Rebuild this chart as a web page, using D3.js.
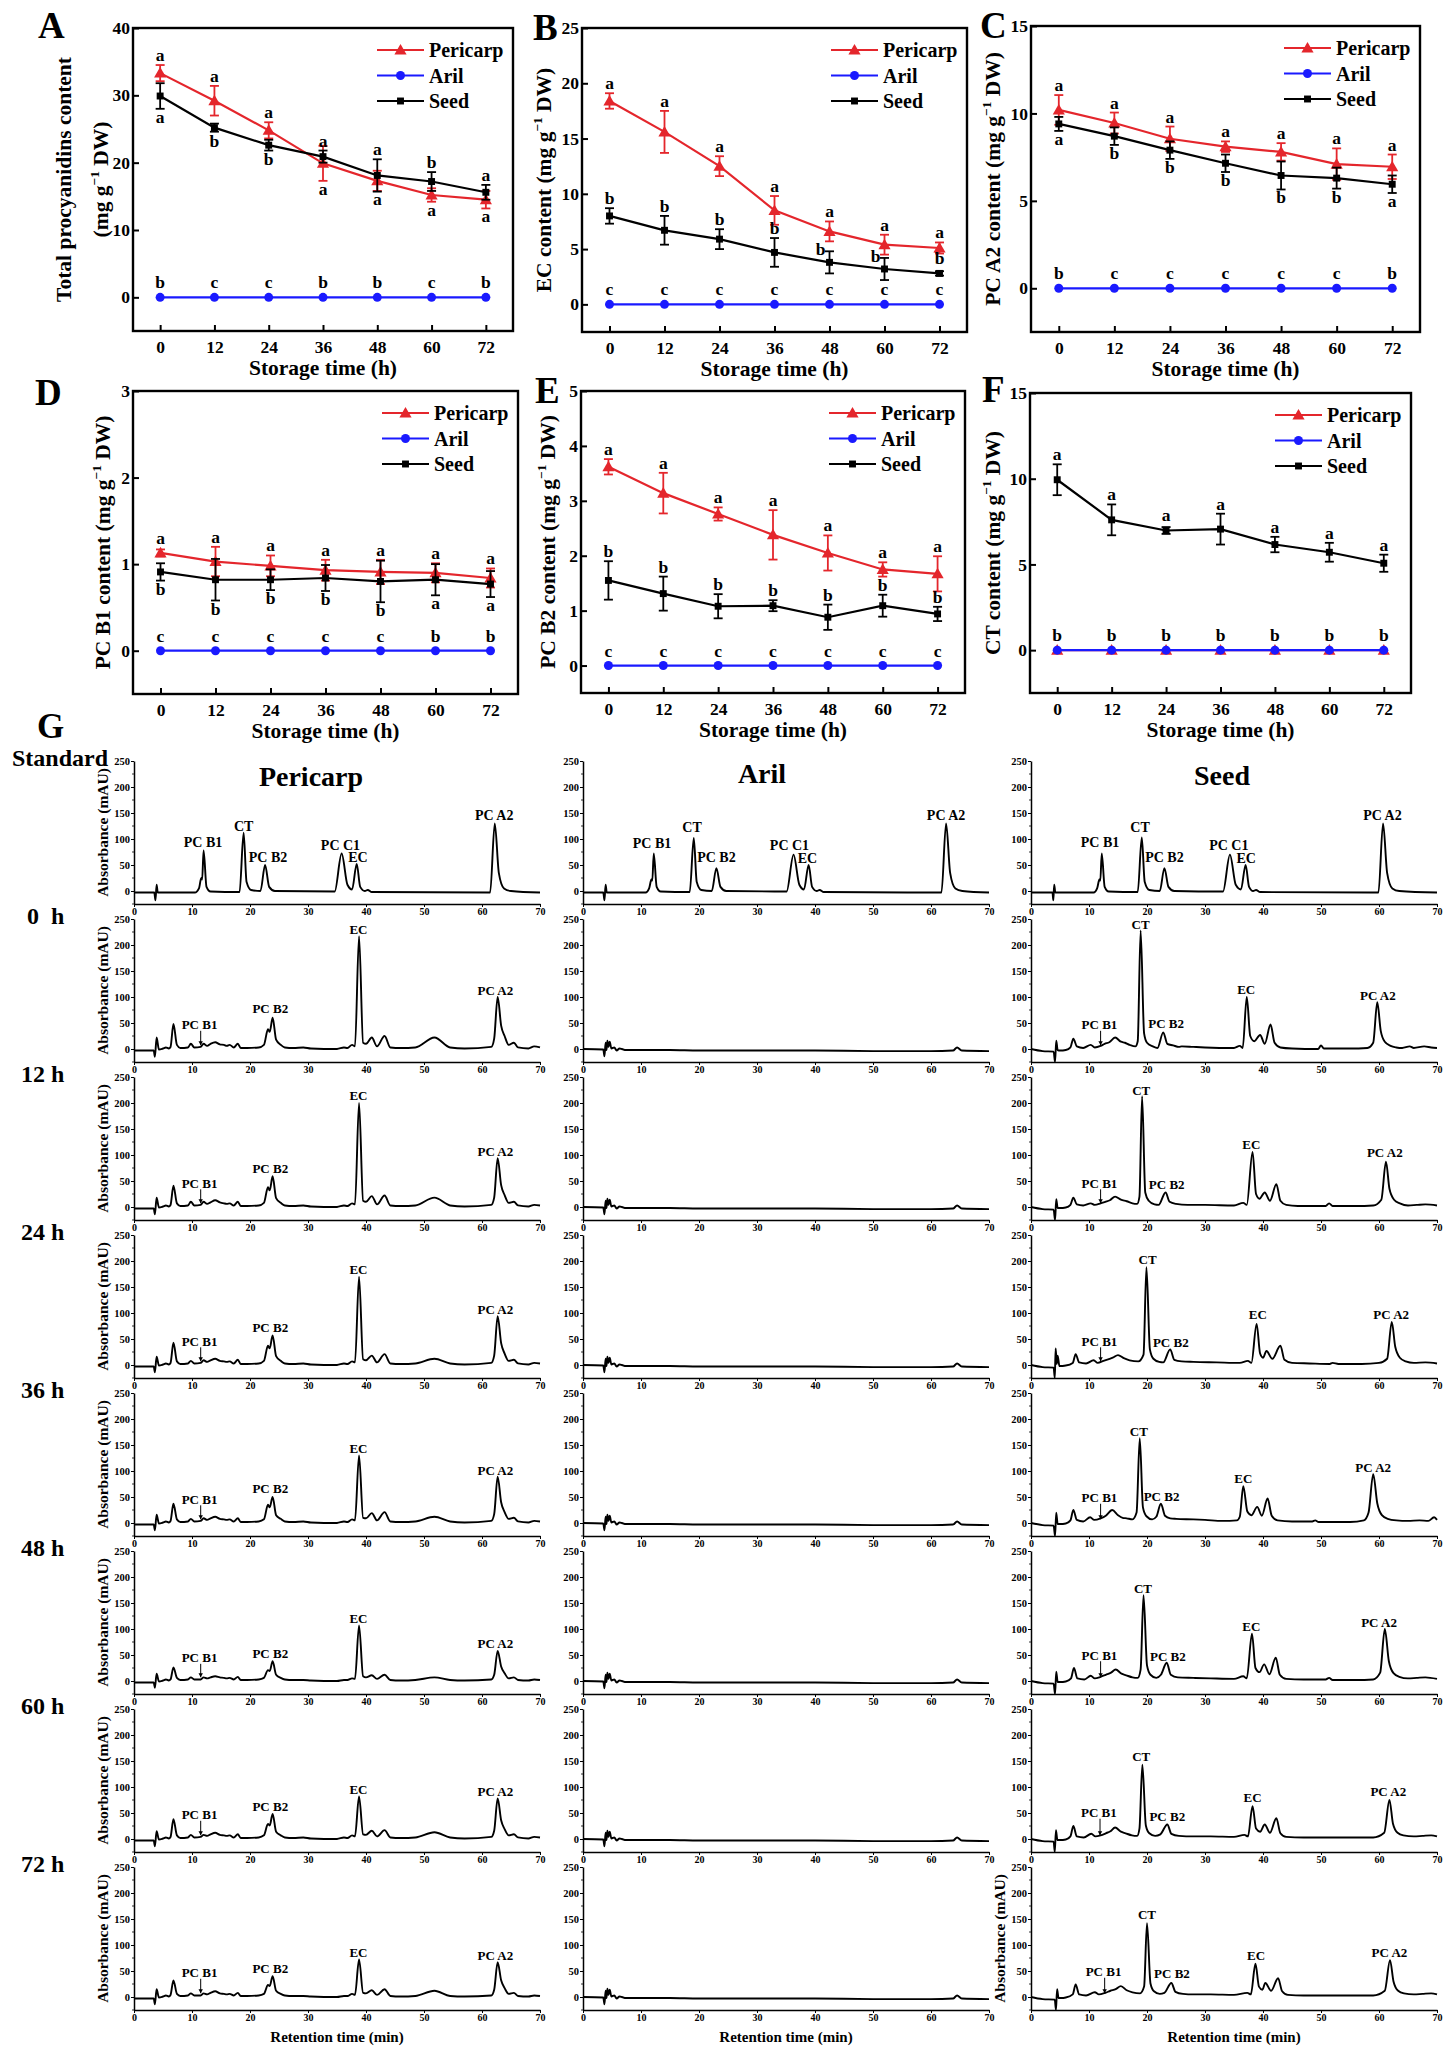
<!DOCTYPE html>
<html><head><meta charset="utf-8"><title>Procyanidins</title>
<script src="https://cdn.jsdelivr.net/npm/d3@7/dist/d3.min.js"></script>
<style>
html,body{margin:0;padding:0;background:#fff;}
svg text{font-family:"Liberation Serif","Times New Roman",Times,serif;font-weight:bold;fill:#000;}
</style></head><body>
<svg id="fig" width="1452" height="2065" viewBox="0 0 1452 2065"></svg>
<script>
// ================= DATA: panels A-F =================
const hours = [0,12,24,36,48,60,72];
const seriesNames = ["Pericarp","Aril","Seed"];
const zeros = [0,0,0,0,0,0,0];

// A: total procyanidins
const totalPericarp = [33.3,29.2,24.8,19.9,17.3,15.2,14.5];
const totalPericarpErr = [1.2,2.2,1.2,2.6,1.5,1.0,1.3];
const totalSeed = [29.9,25.2,22.6,20.9,18.1,17.2,15.6];
const totalSeedErr = [1.9,0.6,0.8,0.9,2.4,1.4,1.1];
const totalLetters = ["aaaaaaa","bccbbcb","abbaaba"];
const totalLetterPos = ["uuudddd","uuuuuuu","ddduuuu"];

// B: EC
const ecPericarp = [18.4,15.6,12.5,8.5,6.6,5.4,5.1];
const ecPericarpErr = [0.7,1.9,0.9,1.3,0.9,0.9,0.5];
const ecSeed = [8.0,6.7,5.9,4.7,3.8,3.2,2.8];
const ecSeedErr = [0.7,1.3,0.9,1.3,1.0,1.0,0.2];
const ecLetters = ["aaaaaaa","ccccccc","bbbbbbb"];
const ecLetterPos = ["uuuuuuu","uuuuuuu","uuuullu"];

// C: PC A2
const a2Pericarp = [10.2,9.45,8.55,8.1,7.8,7.1,6.95];
const a2PericarpErr = [0.85,0.6,0.7,0.3,0.5,0.9,0.7];
const a2Seed = [9.4,8.7,7.9,7.15,6.45,6.3,5.95];
const a2SeedErr = [0.4,0.5,0.5,0.5,0.8,0.6,0.5];
const a2Letters = ["aaaaaaa","bcccccb","abbbbba"];
const a2LetterPos = ["uuuuuuu","uuuuuuu","ddddddd"];

// D: PC B1
const b1Pericarp = [1.13,1.03,0.98,0.93,0.91,0.90,0.84];
const b1PericarpErr = [0.04,0.17,0.12,0.12,0.14,0.11,0.11];
const b1Seed = [0.91,0.82,0.82,0.84,0.80,0.82,0.77];
const b1SeedErr = [0.10,0.24,0.12,0.15,0.24,0.18,0.15];
const b1Letters = ["aaaaaaa","cccccbb","bbbbbaa"];
const b1LetterPos = ["uuuuuuu","uuuuuuu","ddddddd"];

// E: PC B2
const b2Pericarp = [3.62,3.14,2.76,2.38,2.05,1.75,1.67];
const b2PericarpErr = [0.14,0.37,0.12,0.45,0.32,0.13,0.32];
const b2Seed = [1.55,1.31,1.08,1.09,0.88,1.09,0.94];
const b2SeedErr = [0.35,0.31,0.22,0.10,0.23,0.20,0.13];
const b2Letters = ["aaaaaaa","ccccccc","bbbbbbb"];
const b2LetterPos = ["uuuuuuu","uuuuuuu","uuuuuuu"];

// F: CT
const ctPericarp = [0,0,0,0,0,0,0];
const ctSeed = [9.94,7.6,6.98,7.06,6.16,5.71,5.07];
const ctSeedErr = [0.9,0.9,0.2,0.9,0.45,0.55,0.5];
const ctLetters = ["","bbbbbbb","aaaaaaa"];
const ctLetterPos = ["","uuuuuuu","uuuuuuu"];

// ================= DATA: panel G chromatograms (retention time min, absorbance mAU) =================
const retTicks = [0,10,20,30,40,50,60,70];
const absTicks = [0,50,100,150,200,250];
const rowNames = ["Standard","0\u00a0\u00a0h","12 h","24 h","36 h","48 h","60 h","72 h"];
const colNames = ["Pericarp","Aril","Seed"];

// Standards (flat time,absorbance pairs)
const perStd = [0,-3, 3.5,-3, 3.7,-18, 3.9,12, 4.1,-3, 10.5,-3, 11.2,5, 11.6,25, 11.75,22, 12.0,78, 12.5,8, 13.2,-1, 18.2,-2, 18.9,112, 19.4,18, 20.2,2, 21.8,0, 22.6,50, 23.3,8, 24.3,0, 34.6,-1, 35.8,72, 36.8,12, 37.6,3, 38.4,52, 39.0,8, 39.8,0, 40.3,2, 41,-2, 61.4,-3, 62.2,130, 62.9,35, 63.8,5, 65,0, 70,-3];
const arilStd = [0,-3, 3.5,-3, 3.7,-18, 3.9,12, 4.1,-3, 10.8,-3, 11.4,5, 11.8,22, 11.95,20, 12.2,72, 12.7,8, 13.4,-1, 18.4,-2, 19.1,102, 19.6,18, 20.4,2, 22.2,0, 23.0,44, 23.7,8, 24.7,0, 35.1,-1, 36.3,70, 37.3,12, 38.1,3, 38.9,50, 39.5,8, 40.3,0, 40.8,2, 41.5,-2, 61.8,-3, 62.6,130, 63.3,35, 64.2,5, 65.4,0, 70,-3];
const seedStd = [0,-3, 3.7,-3, 3.85,-18, 4.0,12, 4.2,-3, 10.8,-3, 11.4,5, 11.8,22, 11.95,20, 12.2,72, 12.7,8, 13.4,-1, 18.4,-2, 19.1,103, 19.6,18, 20.4,2, 22.2,0, 23.0,44, 23.7,8, 24.7,0, 33.1,-1, 34.3,70, 35.3,12, 36.2,3, 37.0,50, 37.6,8, 38.3,0, 38.8,2, 39.5,-2, 59.9,-3, 60.7,130, 61.4,35, 62.3,5, 63.5,0, 70,-3];

// Pericarp samples share vertex times
const perTimes = [0,3.4,3.6,3.9,4.3,5.0,5.5,6.0,6.3,6.8,
 7.4,8.0,9.3,9.8,10.4,11.5,12.0,12.6,13.2,14.0,
 14.8,15.5,16.0,16.5,17.2,17.9,18.4,19.5,21.5,22.4,
 23.1,23.4,23.9,24.5,25.3,26.0,27.5,29.2,30.5,35.0,
 36.2,36.8,37.6,38.1,38.8,39.5,40.0,41.0,41.9,43.2,
 44.2,46.0,48.5,51.8,54.5,57.0,61.6,62.1,62.7,63.3,
 63.9,64.6,65.5,66.2,68.0,69.0,70.0];
const per0h = [-3,-3,-15,22,-1,1,3,1,4,48, 8,2,3,10,3,4,10,6,10,13, 9,8,6,8,3,10,2,2,3,8, 38,33,60,18,8,3,2,3,1,0, 3,2,8,5,217,12,10,22,5,25, 3,2,3,22,3,1,4,20,100,45, 25,8,12,3,1,5,3];
const per12h = [-3,-3,-14,18,-1,1,3,1,4,41, 7,2,3,10,3,4,10,6,9,13, 9,7,6,7,3,10,2,2,3,8, 38,32,59,17,8,3,2,3,1,0, 3,2,7,5,200,12,10,21,5,22, 3,2,3,18,3,1,4,18,94,42, 23,8,10,3,1,4,3];
const per24h = [-3,-3,-14,16,-1,1,3,1,4,43, 7,2,3,8,3,4,9,6,9,12, 8,7,6,7,3,10,2,2,3,8, 37,32,57,17,8,3,2,3,1,0, 3,2,7,5,170,11,9,18,5,21, 3,2,3,12,3,1,4,18,94,42, 22,8,10,3,1,4,3];
const per36h = [-3,-3,-14,16,-1,1,3,1,4,37, 7,2,3,8,3,4,9,6,9,12, 8,7,6,7,3,9,2,2,3,7, 35,30,50,15,8,3,2,3,1,0, 3,2,7,5,130,10,9,19,5,21, 3,2,3,12,3,1,4,17,89,40, 21,8,10,3,1,4,3];
const per48h = [-3,-3,-13,14,-1,1,3,1,3,26, 6,2,3,7,3,3,7,5,7,9, 7,6,5,6,3,8,2,2,3,6, 21,19,38,12,6,3,2,2,1,0, 2,2,5,4,107,9,7,11,4,12, 2,1,2,7,2,1,3,12,58,28, 15,5,7,2,1,3,2];
const per60h = [-3,-3,-14,15,-1,1,3,1,4,38, 7,2,3,8,3,4,8,6,9,12, 8,7,6,7,3,9,2,2,3,7, 29,26,48,14,7,3,2,3,1,0, 3,2,7,5,82,9,8,16,5,17, 3,2,3,13,3,1,4,16,78,36, 19,7,9,3,1,4,3];
const per72h = [-3,-3,-14,15,-1,1,3,1,4,32, 6,2,3,7,3,3,7,5,8,11, 7,6,5,6,3,8,2,2,3,6, 23,21,40,12,6,3,2,2,1,0, 2,2,6,4,72,8,7,13,4,15, 2,1,2,12,2,1,3,14,67,32, 17,6,8,2,1,3,2];

// Aril samples (all storage times look the same: flat trace)
const arilSample = [0,0, 3.5,-1, 3.7,-14, 3.9,12, 4.05,-2, 4.2,16, 4.4,4, 4.6,14, 4.9,1, 5.4,3, 5.8,-3, 6.3,1, 6.7,0, 7.2,-2, 10,-2, 15,-2, 20,-3, 30,-3, 40,-3, 50,-4, 60,-4, 63.8,-3, 64.5,3, 65.3,-3, 70,-4];

// Seed samples (flat pairs)
const seed0h = [0,0, 2,-4, 3.9,-5, 4.15,-25, 4.35,16, 4.6,-2, 5,-3, 6,-2, 6.8,3, 7.3,20, 7.9,5, 9,2, 10.3,8, 11,3, 12,6, 12.7,10, 13.5,13, 14.5,22, 15.5,14, 16.2,12, 17,8, 18,5, 18.4,15, 18.9,228, 19.5,30, 20,12, 21,5, 21.8,2, 22.8,32, 23.5,10, 24.5,7, 25.5,4, 26,5, 28,4, 30,3, 35,2, 36,6, 36.5,2, 37.2,100, 37.8,25, 38.5,15, 39.5,27, 40.3,10, 41.3,47, 42,12, 43,3, 45,1, 49.5,0, 50,7, 50.5,1, 55,1, 58,2, 59,12, 59.7,90, 60.3,35, 61,14, 62,6, 63,3, 64,2, 65.3,5, 66,2, 67.8,5, 69,3, 70,2];
const seed12h = [0,0, 2,-4, 3.9,-5, 4.15,-25, 4.35,15, 4.6,-2, 5,-2, 6,-1, 6.8,4, 7.3,18, 7.9,5, 9,3, 10.3,7, 11,4, 12,7, 12.8,10, 13.6,13, 14.5,20, 15.5,14, 16.5,11, 17.5,7, 18.3,6, 18.7,20, 19.15,213, 19.7,28, 20.3,12, 21.3,5, 22,4, 23.2,28, 23.9,10, 25,6, 27,4, 30,4, 35,3, 36.6,8, 37.2,4, 38.2,106, 38.8,25, 39.4,16, 40.3,28, 41.2,12, 42.3,44, 43,12, 44,4, 46,2, 50.8,2, 51.4,7, 52,2, 56,2, 59,3, 60.4,14, 61.2,87, 61.8,35, 62.6,14, 63.6,7, 65,3, 66.5,4, 68,5, 70,3];
const seed24h = [0,0, 2,-4, 3.9,-5, 4.1,-25, 4.25,32, 4.45,2, 4.6,18, 4.9,-2, 6,-1, 7.2,4, 7.7,21, 8.3,5, 9.5,3, 10.8,9, 11.5,4, 12.5,8, 13.3,11, 14.1,14, 15,19, 16,13, 17,9, 18.5,7, 19.4,20, 19.9,188, 20.5,30, 21.1,12, 22.1,6, 22.8,5, 24,30, 24.7,10, 26,7, 28,6, 32,5, 36,4, 37.4,8, 38,4, 38.9,79, 39.5,22, 40,14, 40.6,27, 41.6,12, 43,37, 43.7,10, 45,4, 48,3, 51.5,2, 52,4, 53,2, 57,2, 60,4, 61.4,12, 62.2,83, 62.8,35, 63.6,14, 64.6,7, 66,4, 68,5, 70,3];
const seed36h = [0,0, 2,-4, 3.9,-5, 4.15,-25, 4.35,20, 4.6,-2, 5,-2, 6,-1, 6.8,5, 7.3,25, 7.9,6, 9,3, 10.2,11, 10.9,6, 12,9, 12.9,14, 14,25, 15,15, 15.8,10, 16.5,9, 17.5,7, 18.2,20, 18.75,163, 19.3,30, 19.9,13, 20.9,7, 21.6,12, 22.4,37, 23.1,14, 24,9, 25,8, 28,7, 30,6, 33,4, 35.5,5, 36,12, 36.6,71, 37.3,22, 38,15, 39,31, 39.8,14, 40.8,47, 41.5,14, 42.5,5, 45,3, 48.5,3, 49,5, 49.6,2, 55,2, 57.4,5, 58.2,20, 59,94, 59.7,38, 60.5,15, 61.5,8, 63,5, 65,4, 67,5, 68.5,4, 69.5,11, 70,6];
const seed48h = [0,0, 2,-4, 3.9,-5, 4.15,-25, 4.35,18, 4.6,-2, 5,-2, 6,-1, 6.9,5, 7.4,25, 8,5, 9.2,3, 10.3,10, 11,5, 12,8, 12.9,12, 13.8,16, 14.6,22, 15.6,14, 16.4,11, 17.5,7, 18.4,6, 18.9,22, 19.4,165, 20,30, 20.6,12, 21.6,6, 22.4,12, 23.4,35, 24.1,12, 25.3,7, 28,6, 31,5, 35,4, 36.6,9, 37.2,5, 38.1,91, 38.7,25, 39.4,17, 40.2,32, 41.1,13, 42.2,45, 42.9,12, 44,4, 47,3, 50.8,3, 51.4,6, 52,2, 56,2, 59,3, 60.2,16, 61,100, 61.7,38, 62.5,15, 63.5,8, 65,5, 66.5,6, 68,7, 70,4];
const seed60h = [0,0, 2,-4, 3.9,-5, 4.1,-25, 4.3,17, 4.55,-2, 5,-2, 6,-1, 6.8,5, 7.3,25, 7.9,5, 9.1,3, 10.4,10, 11.1,5, 12,7, 12.9,11, 13.7,15, 14.5,22, 15.5,14, 16.3,11, 17.4,7, 18.3,6, 18.7,20, 19.2,143, 19.8,26, 20.4,11, 21.4,6, 22.3,9, 23.5,28, 24.2,10, 25.5,6, 28,5, 31,5, 35,4, 36.8,8, 37.4,5, 38.2,63, 38.8,20, 39.5,14, 40.3,28, 41.2,12, 42.3,40, 43,11, 44,4, 47,3, 51,3, 55,3, 59,3, 60.9,12, 61.8,75, 62.4,30, 63.2,12, 64.2,7, 66,5, 67.5,6, 69,7, 70,5];
const seed72h = [0,0, 2,-4, 4.1,-5, 4.3,-25, 4.5,15, 4.75,-2, 5.2,-2, 6,-1, 7.2,5, 7.7,24, 8.3,5, 9.5,3, 11,9, 11.7,5, 12.8,8, 13.7,12, 14.6,15, 15.5,21, 16.5,13, 17.5,9, 18.8,7, 19.5,20, 20,142, 20.6,26, 21.2,11, 22.2,6, 23,8, 24.2,27, 24.9,10, 26.2,6, 28,5, 31,5, 35,4, 37.3,8, 37.9,5, 38.7,64, 39.3,20, 39.9,14, 40.4,27, 41.4,12, 42.6,36, 43.3,11, 44.3,4, 47,3, 51,3, 55,3, 59,3, 61,12, 61.9,71, 62.5,30, 63.3,12, 64.3,7, 66,5, 67.5,6, 69,7, 70,5];

// Peak labels: [text, retention time, absorbance at label baseline]
const perStdLabels = [["PC B1",11.9,85],["CT",18.9,115],["PC B2",23.1,56],["PC C1",35.6,79],["EC",38.6,55],["PC A2",62.1,136]];
const arilStdLabels = [["PC B1",11.9,83],["CT",18.8,113],["PC B2",23.0,55],["PC C1",35.6,78],["EC",38.7,53],["PC A2",62.6,136]];
const seedStdLabels = [["PC B1",11.9,85],["CT",18.8,114],["PC B2",23.0,55],["PC C1",34.1,78],["EC",37.1,53],["PC A2",60.6,136]];
const perLab0h = [["PC B1",11.3,38],["PC B2",23.5,70],["EC",38.7,222],["PC A2",62.3,104]];
const perLab12h = [["PC B1",11.3,37],["PC B2",23.5,65],["EC",38.7,205],["PC A2",62.3,99]];
const perLab24h = [["PC B1",11.3,37],["PC B2",23.5,64],["EC",38.7,175],["PC A2",62.3,98]];
const perLab36h = [["PC B1",11.3,37],["PC B2",23.5,57],["EC",38.7,135],["PC A2",62.3,93]];
const perLab48h = [["PC B1",11.3,36],["PC B2",23.5,45],["EC",38.7,112],["PC A2",62.3,63]];
const perLab60h = [["PC B1",11.3,38],["PC B2",23.5,54],["EC",38.7,87],["PC A2",62.3,83]];
const perLab72h = [["PC B1",11.3,38],["PC B2",23.5,46],["EC",38.7,77],["PC A2",62.3,72]];
const seedLab0h = [["CT",18.9,230],["EC",37.1,106],["PC A2",59.8,94],["PC B1",11.8,38],["PC B2",23.3,40]];
const seedLab12h = [["CT",19.0,216],["EC",38.0,111],["PC A2",61.0,96],["PC B1",11.8,37],["PC B2",23.4,35]];
const seedLab24h = [["CT",20.1,194],["EC",39.1,88],["PC A2",62.1,88],["PC B1",11.8,37],["PC B2",24.1,34]];
const seedLab36h = [["CT",18.6,168],["EC",36.6,76],["PC A2",59.0,99],["PC B1",11.8,40],["PC B2",22.5,42]];
const seedLab48h = [["CT",19.3,170],["EC",38.0,97],["PC A2",60.0,104],["PC B1",11.8,41],["PC B2",23.6,38]];
const seedLab60h = [["CT",19.0,150],["EC",38.2,71],["PC A2",61.6,82],["PC B1",11.7,42],["PC B2",23.5,35]];
const seedLab72h = [["CT",20.0,150],["EC",38.8,71],["PC A2",61.8,76],["PC B1",12.5,40],["PC B2",24.3,37]];

// ================= DRAWING =================
const svg = d3.select("#fig");
const COLOR = {Pericarp:"#e4262c", Aril:"#1a1aff", Seed:"#000000"};

function pairs(a){const r=[];for(let i=0;i+1<a.length;i+=2)r.push([a[i],a[i+1]]);return r;}

function drawMarker(g, name, cx, cy){
  if(name==="Aril"){
    g.append("circle").attr("cx",cx).attr("cy",cy).attr("r",4.5).attr("fill",COLOR.Aril);
  } else {
    const sym = name==="Pericarp" ? d3.symbol(d3.symbolTriangle,64) : d3.symbol(d3.symbolSquare,48);
    g.append("path").attr("d",sym()).attr("transform",`translate(${cx},${cy + (name==="Pericarp"?1:0)})`).attr("fill",COLOR[name]);
  }
}

function titleText(sel, str, size){
  const parts = str.split("|");
  sel.append("tspan").text(parts[0]);
  if(parts.length>1){
    sel.append("tspan").attr("font-size",size*0.62).attr("dy",-size*0.38).text(parts[1]);
    sel.append("tspan").attr("dy",size*0.38).text(parts[2]);
  }
}

const panels = [
 {tag:"A", tagXY:[38,38], box:[133,28,513,331], yd:[-5,40], yt:[0,10,20,30,40],
  titles:[["Total procyanidins content",63],["(mg g|\u22121| DW)",100]],
  vals:[totalPericarp,zeros,totalSeed], errs:[totalPericarpErr,zeros,totalSeedErr], lets:totalLetters, pos:totalLetterPos},
 {tag:"B", tagXY:[533,40], box:[582,28,967,332], yd:[-2.5,25], yt:[0,5,10,15,20,25],
  titles:[["EC content (mg g|\u22121| DW)",543]],
  vals:[ecPericarp,zeros,ecSeed], errs:[ecPericarpErr,zeros,ecSeedErr], lets:ecLetters, pos:ecLetterPos},
 {tag:"C", tagXY:[980,38], box:[1031,26,1420,332], yd:[-2.5,15], yt:[0,5,10,15],
  titles:[["PC A2 content (mg g|\u22121| DW)",992]],
  vals:[a2Pericarp,zeros,a2Seed], errs:[a2PericarpErr,zeros,a2SeedErr], lets:a2Letters, pos:a2LetterPos},
 {tag:"D", tagXY:[35,405], box:[133,391,518,694], yd:[-0.5,3], yt:[0,1,2,3],
  titles:[["PC B1 content (mg g|\u22121| DW)",102]],
  vals:[b1Pericarp,zeros,b1Seed], errs:[b1PericarpErr,zeros,b1SeedErr], lets:b1Letters, pos:b1LetterPos},
 {tag:"E", tagXY:[535,403], box:[581,391,965,693], yd:[-0.5,5], yt:[0,1,2,3,4,5],
  titles:[["PC B2 content (mg g|\u22121| DW)",547]],
  vals:[b2Pericarp,zeros,b2Seed], errs:[b2PericarpErr,zeros,b2SeedErr], lets:b2Letters, pos:b2LetterPos},
 {tag:"F", tagXY:[982,402], box:[1030,393,1411,693], yd:[-2.5,15], yt:[0,5,10,15],
  titles:[["CT content (mg g|\u22121| DW)",992]],
  vals:[ctPericarp,zeros,ctSeed], errs:[zeros,zeros,ctSeedErr], lets:ctLetters, pos:ctLetterPos}
];

panels.forEach(p=>{
  const [L,T,R,B] = p.box;
  const x = d3.scaleLinear().domain([-6,78]).range([L,R]);
  const y = d3.scaleLinear().domain(p.yd).range([B,T]);
  const g = svg.append("g");

  const ax = g.append("g").attr("transform",`translate(0,${B})`)
    .call(d3.axisBottom(x).tickValues(hours).tickSizeInner(-6).tickSizeOuter(0).tickPadding(10).tickFormat(d3.format("d")));
  ax.select(".domain").remove();
  ax.selectAll("line").attr("stroke-width",2);
  ax.selectAll("text").attr("font-size",17.5).attr("dy","0.71em");
  const ay = g.append("g").attr("transform",`translate(${L},0)`)
    .call(d3.axisLeft(y).tickValues(p.yt).tickSizeInner(-6).tickSizeOuter(0).tickPadding(3).tickFormat(d3.format("d")));
  ay.select(".domain").remove();
  ay.selectAll("line").attr("stroke-width",2);
  ay.selectAll("text").attr("font-size",17.5);
  g.append("rect").attr("x",L).attr("y",T).attr("width",R-L).attr("height",B-T)
    .attr("fill","none").attr("stroke","#000").attr("stroke-width",2.4);

  g.append("text").attr("x",(x(0)+x(72))/2).attr("y",B+44).attr("text-anchor","middle").attr("font-size",21.5).text("Storage time (h)");
  p.titles.forEach(([t,tx])=>{
    const el = g.append("text").attr("transform",`translate(${tx},${(T+B)/2}) rotate(-90)`)
      .attr("text-anchor","middle").attr("dy","0.35em").attr("font-size",21.5);
    titleText(el,t,21.5);
  });
  g.append("text").attr("x",p.tagXY[0]).attr("y",p.tagXY[1]).attr("font-size",37).text(p.tag);

  const line = d3.line().x((d,i)=>x(hours[i])).y(d=>y(d));
  seriesNames.forEach((name,si)=>{
    const v = p.vals[si], e = p.errs[si], c = COLOR[name];
    const sg = g.append("g");
    sg.append("path").datum(v).attr("d",line).attr("fill","none").attr("stroke",c).attr("stroke-width",2.2);
    v.forEach((val,i)=>{
      const cx = x(hours[i]);
      if(e[i]>0){
        const y1=y(val-e[i]), y2=y(val+e[i]);
        sg.append("line").attr("x1",cx).attr("x2",cx).attr("y1",y1).attr("y2",y2).attr("stroke",c).attr("stroke-width",1.8);
        [y1,y2].forEach(yy=>sg.append("line").attr("x1",cx-4.5).attr("x2",cx+4.5).attr("y1",yy).attr("y2",yy).attr("stroke",c).attr("stroke-width",1.8));
      }
      drawMarker(sg,name,cx,y(val));
    });
  });
  seriesNames.forEach((name,si)=>{
    const v = p.vals[si], e = p.errs[si], L1 = p.lets[si], P1 = p.pos[si];
    if(!L1) return;
    v.forEach((val,i)=>{
      const cx = x(hours[i]);
      let tx = cx, ty;
      const mode = P1[i];
      if(mode==="u") ty = Math.min(y(val+e[i]), y(val)-5) - 4;
      else if(mode==="d") ty = Math.max(y(val-e[i]), y(val)+5) + 14;
      else { tx = cx-9; ty = y(val)-7; }
      g.append("text").attr("x",tx).attr("y",ty).attr("text-anchor","middle").attr("font-size",17.5).text(L1[i]);
    });
  });
  const lx = R-136;
  seriesNames.forEach((name,si)=>{
    const ly = T + 22 + si*25.5;
    g.append("line").attr("x1",lx).attr("x2",lx+47).attr("y1",ly).attr("y2",ly).attr("stroke",COLOR[name]).attr("stroke-width",2.2);
    drawMarker(g,name,lx+23.5,ly);
    g.append("text").attr("x",lx+52).attr("y",ly).attr("dy","0.35em").attr("font-size",20).text(name);
  });
});

// ================= PANEL G =================
const perTraces = [pairs(perStd), d3.zip(perTimes,per0h), d3.zip(perTimes,per12h), d3.zip(perTimes,per24h),
  d3.zip(perTimes,per36h), d3.zip(perTimes,per48h), d3.zip(perTimes,per60h), d3.zip(perTimes,per72h)];
const arilTraces = [pairs(arilStd)].concat(d3.range(7).map(()=>pairs(arilSample)));
const seedTraces = [pairs(seedStd), pairs(seed0h), pairs(seed12h), pairs(seed24h), pairs(seed36h), pairs(seed48h), pairs(seed60h), pairs(seed72h)];
const perLabels = [perStdLabels, perLab0h, perLab12h, perLab24h, perLab36h, perLab48h, perLab60h, perLab72h];
const arilLabels = [arilStdLabels, [], [], [], [], [], [], []];
const seedLabels = [seedStdLabels, seedLab0h, seedLab12h, seedLab24h, seedLab36h, seedLab48h, seedLab60h, seedLab72h];

const gCols = [
  {x0:134, traces:perTraces, labels:perLabels, ylabRows:[0,1,2,3,4,5,6,7], hx:311, hy:786},
  {x0:583, traces:arilTraces, labels:arilLabels, ylabRows:[], hx:762, hy:783},
  {x0:1031, traces:seedTraces, labels:seedLabels, ylabRows:[7], hx:1222, hy:785}
];
const G_W = 406, ROW0 = 904, ROW_STEP = 158, ROW_H = 143;
const gG = svg.append("g");
gG.append("text").attr("x",37).attr("y",738).attr("font-size",35).text("G");

rowNames.forEach((rn,r)=>{
  const axisY = ROW0 + ROW_STEP*r;
  gG.append("text").attr("x", r===0?12:(r===1?27:21)).attr("y",axisY-ROW_H+5).attr("font-size",24).text(rn);
});

gCols.forEach((col,ci)=>{
  gG.append("text").attr("x",col.hx).attr("y",col.hy).attr("text-anchor","middle").attr("font-size",28).text(colNames[ci]);
  for(let r=0;r<8;r++){
    const axisY = ROW0 + ROW_STEP*r;
    const x = d3.scaleLinear().domain([0,70]).range([col.x0, col.x0+G_W]);
    const y = d3.scaleLinear().domain([-25,250]).range([axisY, axisY-ROW_H]);
    const cg = gG.append("g");
    const ax = cg.append("g").attr("transform",`translate(0,${axisY})`)
      .call(d3.axisBottom(x).tickValues(retTicks).tickSize(3).tickSizeOuter(0).tickPadding(1));
    ax.select(".domain").attr("stroke-width",1.5);
    ax.selectAll("line").attr("stroke-width",1);
    ax.selectAll("text").attr("font-size",10);
    const ay = cg.append("g").attr("transform",`translate(${col.x0},0)`)
      .call(d3.axisLeft(y).tickValues(absTicks).tickSize(3).tickSizeOuter(0).tickPadding(1));
    ay.select(".domain").attr("stroke-width",1.5);
    ay.selectAll("line").attr("stroke-width",1);
    ay.selectAll("text").attr("font-size",10.5);
    const minor = [-25,25,75,125,175,225];
    cg.selectAll(null).data(minor).enter().append("line")
      .attr("x1",col.x0-2).attr("x2",col.x0).attr("y1",d=>y(d)).attr("y2",d=>y(d)).attr("stroke","#000").attr("stroke-width",0.8);
    if(col.ylabRows.includes(r)){
      cg.append("text").attr("transform",`translate(${col.x0-31},${axisY-ROW_H/2}) rotate(-90)`)
        .attr("text-anchor","middle").attr("dy","0.35em").attr("font-size",15.5).text("Absorbance (mAU)");
    }
    const line = d3.line().x(d=>x(d[0])).y(d=>y(d[1])).curve(d3.curveMonotoneX);
    cg.append("path").datum(col.traces[r]).attr("d",line).attr("fill","none").attr("stroke","#000").attr("stroke-width",1.9).attr("stroke-linejoin","round");
    const fs = r===0 ? 14 : 13;
    col.labels[r].forEach(([txt,t,a])=>{
      cg.append("text").attr("x",x(t)).attr("y",y(a)).attr("text-anchor","middle").attr("font-size",fs).text(txt);
      if(r>0 && txt==="PC B1"){
        const axx = x(t+0.2), yTop = y(a-3), yTip = y(13);
        cg.append("line").attr("x1",axx).attr("x2",axx).attr("y1",yTop).attr("y2",yTip+3).attr("stroke","#000").attr("stroke-width",1);
        cg.append("path").attr("d",`M${axx-2.2},${yTip-1}L${axx+2.2},${yTip-1}L${axx},${yTip+3}Z`).attr("fill","#000");
      }
    });
    if(r===7){
      cg.append("text").attr("x",x(35)).attr("y",2042).attr("text-anchor","middle").attr("font-size",15).text("Retention time (min)");
    }
  }
});
</script>
</body></html>
